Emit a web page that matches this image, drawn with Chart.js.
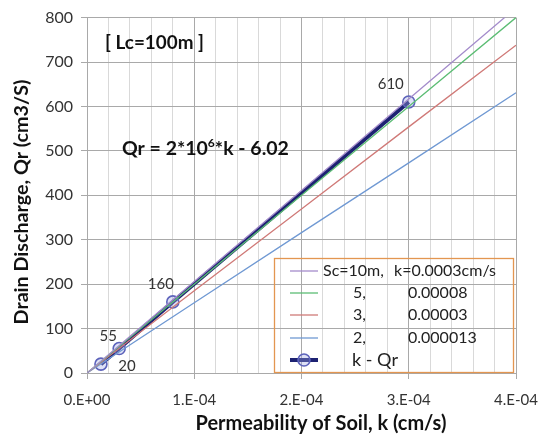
<!DOCTYPE html>
<html>
<head>
<meta charset="utf-8">
<script src="https://cdn.jsdelivr.net/npm/chart.js@4"></script>
<style>
html, body { margin: 0; padding: 0; background: #fff; }
</style>
</head>
<body>
<canvas id="myChart" width="551" height="437"></canvas>
<script>
// значения
const kLine = [0, 0.0001, 0.0002, 0.0003, 0.0004];
const qSc10 = [0, 206, 411, 617, 822];
const qSc5 = [0, 200, 400, 600, 800];
const qSc3 = [0, 185, 369, 554, 738];
const qSc2 = [0, 158, 316, 473, 631];
const kPoints = [0.000013, 0.00003, 0.00008, 0.0003];
const qPoints = [20, 55, 160, 610];
const legendNames = ['Sc=10m,', '5,', '3,', '2,', 'k - Qr'];
const legendValues = ['k=0.0003cm/s', '0.00008', '0.00003', '0.000013', ''];
const xTickLabels = ['0.E+00', '1.E-04', '2.E-04', '3.E-04', '4.E-04'];
const yTickLabels = ['0', '100', '200', '300', '400', '500', '600', '700', '800'];

const FONT = 'Lato, "Open Sans", sans-serif';

// пары (k, Qr) для линии
function toXY(xs, ys) {
    return xs.map((x, i) => ({ x, y: ys[i] }));
}

function thinLine(data, color) {
    return {
        data: toXY(kLine, data),
        showLine: true,
        borderColor: color,
        backgroundColor: color,
        borderWidth: 1.3,
        pointRadius: 0
    };
}

function isMajor(v) {
    const r = v / 0.0001;
    return Math.abs(r - Math.round(r)) < 1e-6;
}

// подбор размера шрифта под нужную ширину
function fitFont(ctx, text, width, weight) {
    ctx.font = weight + ' 20px ' + FONT;
    const size = 20 * width / ctx.measureText(text).width;
    return size;
}

const datasets = [
    thinLine(qSc10, '#a48ccb'),
    thinLine(qSc5, '#5cbd74'),
    thinLine(qSc3, '#d07a78'),
    thinLine(qSc2, '#7099d3'),
    {
        data: toXY(kPoints, qPoints),
        showLine: true,
        borderColor: '#1d2272',
        backgroundColor: 'rgba(150,160,225,0.35)',
        borderWidth: 4,
        pointRadius: 6,
        pointBorderColor: '#5d63bb',
        pointBorderWidth: 1.6,
        pointBackgroundColor: 'rgba(160,170,230,0.35)'
    }
];

// подписи, легенда и тексты поверх графика
const overlay = {
    id: 'overlay',
    afterDatasetsDraw(chart) {
        const ctx = chart.ctx;
        const meta = chart.getDatasetMeta(4);
        const offs = [[26, 2], [-11, -12], [-12, -18], [-18, -18]];
        ctx.save();
        ctx.font = '15px ' + FONT;
        ctx.fillStyle = '#333';
        ctx.textAlign = 'center';
        ctx.textBaseline = 'middle';
        meta.data.forEach((pt, i) => {
            ctx.fillText(String(qPoints[i]), pt.x + offs[i][0], pt.y + offs[i][1]);
        });
        ctx.restore();
    },
    afterDraw(chart) {
        const ctx = chart.ctx;
        ctx.save();

        // легенда
        ctx.strokeStyle = '#e39650';
        ctx.lineWidth = 1.3;
        ctx.strokeRect(274.5, 258.5, 239, 114);
        const rows = [271, 293, 315, 338, 360];
        ctx.textBaseline = 'middle';
        ctx.textAlign = 'left';
        rows.forEach((y, i) => {
            const ds = chart.data.datasets[i];
            ctx.strokeStyle = ds.borderColor;
            ctx.lineWidth = ds.borderWidth;
            ctx.beginPath();
            ctx.moveTo(290, y);
            ctx.lineTo(318, y);
            ctx.stroke();
            if (i === 4) {
                ctx.beginPath();
                ctx.arc(304, y, 6, 0, Math.PI * 2);
                ctx.fillStyle = ds.pointBackgroundColor;
                ctx.fill();
                ctx.lineWidth = ds.pointBorderWidth;
                ctx.strokeStyle = ds.pointBorderColor;
                ctx.stroke();
            }
            ctx.fillStyle = '#222';
            if (i === 4) {
                ctx.font = fitFont(ctx, legendNames[i], 46, '') + 'px ' + FONT;
                ctx.fillText(legendNames[i], 352, y);
            } else {
                ctx.font = '16px ' + FONT;
                ctx.fillText(legendNames[i], i === 0 ? 323 : 353, y);
                ctx.fillText(legendValues[i], i === 0 ? 394 : 408, y);
            }
        });

        // надписи
        ctx.fillStyle = '#111';
        ctx.font = 'bold ' + fitFont(ctx, '[ Lc=100m ]', 99, 'bold') + 'px ' + FONT;
        ctx.fillText('[ Lc=100m ]', 105, 43);

        const eqSize = fitFont(ctx, 'Qr = 2*10*k - 6.02', 160, 'bold');
        const big = 'bold ' + eqSize + 'px ' + FONT;
        const small = 'bold ' + (eqSize * 0.62) + 'px ' + FONT;
        let x = 122;
        const eqY = 149;
        ctx.font = big;
        ctx.fillText('Qr = 2*10', x, eqY);
        x += ctx.measureText('Qr = 2*10').width;
        ctx.font = small;
        ctx.fillText('6', x, eqY - 6);
        x += ctx.measureText('6').width;
        ctx.font = big;
        ctx.fillText('*k - 6.02', x, eqY);

        // подписи осей
        ctx.textAlign = 'center';
        const xt = 'Permeability of Soil, k (cm/s)';
        ctx.font = 'bold ' + fitFont(ctx, xt, 251, 'bold') + 'px ' + FONT;
        ctx.textBaseline = 'alphabetic';
        ctx.fillText(xt, 321, 430);
        ctx.textBaseline = 'middle';
        const yt = 'Drain Discharge, Qr (cm3/S)';
        ctx.font = 'bold ' + fitFont(ctx, yt, 245, 'bold') + 'px ' + FONT;
        ctx.translate(22, 202);
        ctx.rotate(-Math.PI / 2);
        ctx.fillText(yt, 0, 0);
        ctx.restore();
    }
};

const ctx = document.getElementById('myChart').getContext('2d');
new Chart(ctx, {
    type: 'scatter',
    data: { datasets },
    options: {
        responsive: false,
        animation: false,
        events: [],
        layout: { padding: { top: 15, right: 35, left: 0, bottom: 0 } },
        plugins: { legend: { display: false }, tooltip: { enabled: false } },
        scales: {
            x: {
                type: 'linear',
                min: 0,
                max: 0.0004,
                afterFit: s => { s.height = 64; },
                ticks: {
                    stepSize: 0.00002,
                    autoSkip: false,
                    maxRotation: 0,
                    padding: 12,
                    color: '#333',
                    font: { family: FONT, size: 15 },
                    callback: v => isMajor(v) ? xTickLabels[Math.round(v / 0.0001)] : ''
                },
                grid: {
                    color: c => isMajor(c.tick.value) ? '#a9a9a9' : '#d9d9d9',
                    tickColor: c => isMajor(c.tick.value) ? '#a9a9a9' : 'rgba(0,0,0,0)',
                    tickLength: 6
                },
                border: { color: '#a9a9a9' }
            },
            y: {
                min: 0,
                max: 800,
                afterFit: s => { s.width = 87; },
                ticks: {
                    stepSize: 100,
                    padding: 8,
                    color: '#333',
                    font: { family: FONT, size: 16 },
                    callback: (v, i) => yTickLabels[i]
                },
                grid: { color: '#a9a9a9', tickColor: '#a9a9a9', tickLength: 6 },
                border: { color: '#a9a9a9' }
            }
        }
    },
    plugins: [overlay]
});
</script>
</body>
</html>
